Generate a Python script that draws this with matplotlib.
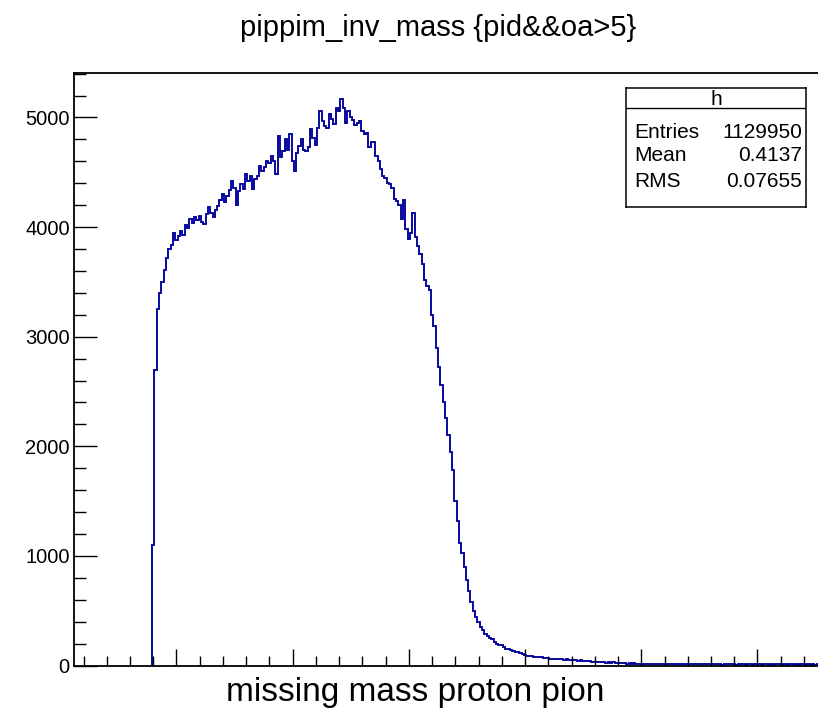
import numpy as np
import matplotlib
matplotlib.use('Agg')
import matplotlib.pyplot as plt
from matplotlib.ticker import MultipleLocator

plt.rcParams['font.family'] = ['Liberation Sans', 'DejaVu Sans']

LINE_COLOR = '#00009c'

# histogram of pi+ pi- invariant mass, bins of 0.002 starting at 2*m_pi
FIRST_EDGE = 0.279
BIN_WIDTH = 0.002
counts = [
    1100, 2700, 3250, 3400, 3500, 3610, 3720, 3800, 3840, 3950,
    3880, 3920, 3965, 3925, 4020, 3990, 4070, 4040, 4090, 4060,
    4100, 4050, 4030, 4120, 4180, 4130, 4090, 4160, 4195, 4250,
    4300, 4230, 4285, 4340, 4420, 4360, 4205, 4330, 4390, 4350,
    4480, 4420, 4470, 4350, 4440, 4470, 4560, 4510, 4550, 4600,
    4580, 4650, 4600, 4480, 4830, 4640, 4690, 4800, 4700, 4845,
    4600, 4510, 4680, 4740, 4800, 4700, 4690, 4730, 4890, 4810,
    4750, 4900, 5060, 4970, 4920, 4900, 5030, 4990, 4940, 5090,
    5060, 5165, 5090, 4950, 5060, 5000, 4980, 4930, 4950, 4970,
    4880, 4845, 4860, 4730, 4780, 4780, 4650, 4600, 4530, 4470,
    4450, 4400, 4390, 4360, 4260, 4240, 4200, 4070, 4250, 3980,
    3890, 3950, 4130, 3910, 3830, 3750, 3660, 3520, 3460, 3430,
    3200, 3100, 2900, 2720, 2560, 2400, 2260, 2100, 1950, 1780,
    1500, 1320, 1120, 1030, 900, 780, 680, 580, 500, 440,
    395, 350, 320, 285, 270, 250, 240, 215, 200, 190,
    183, 165, 153, 150, 138, 130, 124, 120, 110, 102,
    95, 91, 88, 84, 82, 78, 76, 74, 72, 68,
    66, 63, 61,
    60, 63, 55, 58, 52, 55, 48, 51, 46, 47,
    44, 46, 40, 43, 37, 39, 35, 36, 31, 33,
    30, 34, 27, 29, 25, 28, 23, 25, 22, 20,
    21, 18, 19, 17, 20, 16, 15, 18, 14, 16,
    17, 13, 15, 16, 12, 15, 14, 11, 16, 13,
    14, 12, 15, 11, 13, 14, 10, 13, 12, 15,
    11, 12, 14, 10, 13, 11, 12, 15, 10, 12,
    11, 13, 9, 12, 14, 10, 11, 13, 9, 12,
    10, 12, 9, 11, 13, 8, 11, 10, 12, 9,
    11, 10, 8, 12, 9, 11, 10, 13, 8, 10,
    9, 11, 10, 8, 12, 9, 10, 11, 8, 10,
    9, 11, 8, 10, 9, 11, 9,
]

title = 'pippim_inv_mass {pid&&oa>5}'
xlabel = 'missing mass proton pion'
hist_name = 'h'
stat_names = ['Entries', 'Mean', 'RMS']
stat_values = ['1129950', '0.4137', '0.07655']

yticks = [0, 1000, 2000, 3000, 4000, 5000]

edges = FIRST_EDGE + BIN_WIDTH * np.arange(len(counts) + 1)

W, H = 818, 714
fig = plt.figure(figsize=(W / 100, H / 100), dpi=100)
ax = fig.add_axes([74 / W, 48.5 / H, 766 / W, 593 / H])

ax.stairs(counts, edges, baseline=0, color=LINE_COLOR, lw=1.35)

ax.set_xlim(0.2118, 0.2118 + 766 / 1162)
ax.set_ylim(0, 5410)

ax.xaxis.set_major_locator(MultipleLocator(0.1))
ax.xaxis.set_minor_locator(MultipleLocator(0.02))
ax.set_yticks(yticks)
ax.yaxis.set_minor_locator(MultipleLocator(200))

ax.tick_params(axis='x', which='major', direction='in', length=12.6, width=1.0,
               labelbottom=False)
ax.tick_params(axis='x', which='minor', direction='in', length=7.2, width=1.0)
ax.tick_params(axis='y', which='major', direction='in', length=16.6, width=1.0,
               labelsize=14.5, pad=3)
ax.tick_params(axis='y', which='minor', direction='in', length=8.6, width=1.0)

for side in ['left', 'bottom', 'top']:
    ax.spines[side].set_linewidth(1.3)
ax.spines['right'].set_visible(False)

fig.text(438 / W, 1 - 28 / H, title, ha='center', va='center', fontsize=21)
fig.text(415 / W, 1 - 693 / H, xlabel, ha='center', va='center', fontsize=24)

# stats box
sb = fig.add_axes([626 / W, 1 - 207 / H, 180 / W, 119 / H])
sb.set_xlim(0, 1)
sb.set_ylim(0, 1)
sb.set_xticks([])
sb.set_yticks([])
for s in sb.spines.values():
    s.set_linewidth(1.1)
sb.axhline(0.829, color='black', lw=1.0)
sb.text(0.5, 0.905, hist_name, ha='center', va='center', fontsize=15)
row_y = [0.624, 0.429, 0.218]
for name, val, y in zip(stat_names, stat_values, row_y):
    sb.text(0.044, y, name, ha='left', va='center', fontsize=15)
    sb.text(0.978, y, val, ha='right', va='center', fontsize=15)

fig.savefig('out.png', dpi=100)
